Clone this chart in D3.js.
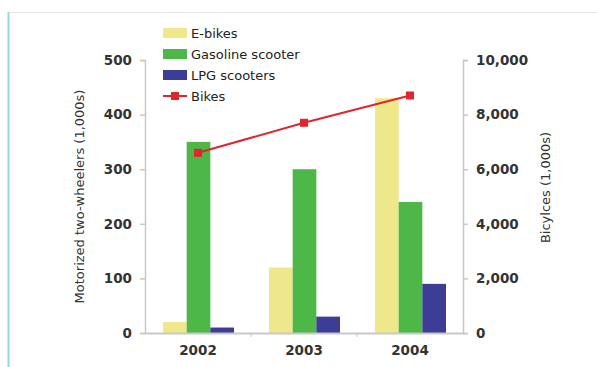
<!DOCTYPE html>
<html>
<head>
<meta charset="utf-8">
<script src="https://cdn.jsdelivr.net/npm/d3@7"></script>
<style>
  body { margin: 0; background: #fff; }
  svg { font-family: "DejaVu Sans", Verdana, sans-serif; }
</style>
</head>
<body>
<svg id="chart" width="597" height="367"></svg>
<script>
const years = ["2002", "2003", "2004"];
const eBikes = [20, 120, 430];
const gasScooters = [350, 300, 240];
const lpgScooters = [10, 30, 90];
const bikes = [6600, 7700, 8700];
const leftTicks = [0, 100, 200, 300, 400, 500];
const rightTicks = [0, 2000, 4000, 6000, 8000, 10000];

const series = [
  {name: "E-bikes", values: eBikes, color: "#efe88a"},
  {name: "Gasoline scooter", values: gasScooters, color: "#4db848"},
  {name: "LPG scooters", values: lpgScooters, color: "#3d3d96"}
];
const lineColor = "#e0252f";

const width = 597;
const height = 367;
const margin = {top: 60, right: 134, bottom: 34, left: 145};

const svg = d3.select("#chart");

// frame
svg.append("line")
  .attr("x1", 8).attr("x2", width).attr("y1", 12.5).attr("y2", 12.5)
  .attr("stroke", "#e6e6e6");
svg.append("line")
  .attr("x1", 8.5).attr("x2", 8.5).attr("y1", 12).attr("y2", height)
  .attr("stroke", "#9fd8d0").attr("stroke-width", 2);

const x = d3.scaleBand()
  .domain(years)
  .range([margin.left, width - margin.right]);

const xInner = d3.scaleBand()
  .domain(series.map(d => d.name))
  .range([0, 71]);

const y = d3.scaleLinear()
  .domain([0, 500])
  .range([height - margin.bottom, margin.top]);

const y2 = d3.scaleLinear()
  .domain([0, 10000])
  .range([height - margin.bottom, margin.top]);

// bars
series.forEach(s => {
  svg.append("g")
    .selectAll("rect")
    .data(s.values)
    .join("rect")
      .attr("x", (d, i) => x(years[i]) + 18 + xInner(s.name))
      .attr("width", xInner.bandwidth())
      .attr("y", d => y(d))
      .attr("height", d => y(0) - y(d))
      .attr("fill", s.color);
});

// axes
const axisColor = "#c8c8c8";
const tickText = "#333";

const leftAxis = svg.append("g")
  .attr("transform", `translate(${margin.left},0)`)
  .call(d3.axisLeft(y).tickValues(leftTicks).tickSize(5).tickPadding(8));

const rightAxis = svg.append("g")
  .attr("transform", `translate(${width - margin.right},0)`)
  .call(d3.axisRight(y2).tickValues(rightTicks).tickSize(5).tickPadding(8)
    .tickFormat(d3.format(",")));

const bottomAxis = svg.append("g")
  .attr("transform", `translate(0,${height - margin.bottom})`)
  .call(d3.axisBottom(x).tickSize(0).tickPadding(12));

// tick marks between categories
svg.append("g")
  .selectAll("line")
  .data(years.slice(1))
  .join("line")
    .attr("x1", d => x(d)).attr("x2", d => x(d))
    .attr("y1", y(0)).attr("y2", y(0) + 4)
    .attr("stroke", axisColor);

[leftAxis, rightAxis, bottomAxis].forEach(a => {
  a.attr("font-family", "DejaVu Sans, Verdana, sans-serif");
  a.selectAll("path, line").attr("stroke", axisColor).attr("stroke-width", 1.5);
  a.selectAll("text")
    .attr("fill", tickText)
    .attr("font-size", 13.5)
    .attr("font-weight", "bold");
});
bottomAxis.select(".domain").attr("stroke-width", 2);

// bikes line
const line = d3.line()
  .x((d, i) => x(years[i]) + x.bandwidth() / 2)
  .y(d => y2(d));

svg.append("path")
  .datum(bikes)
  .attr("fill", "none")
  .attr("stroke", lineColor)
  .attr("stroke-width", 2)
  .attr("d", line);

svg.append("g")
  .selectAll("rect")
  .data(bikes)
  .join("rect")
    .attr("x", (d, i) => x(years[i]) + x.bandwidth() / 2 - 4)
    .attr("y", d => y2(d) - 4)
    .attr("width", 8)
    .attr("height", 8)
    .attr("fill", lineColor);

// axis titles
svg.append("text")
  .attr("transform", `translate(84,${(y(0) + y(500)) / 2}) rotate(-90)`)
  .attr("text-anchor", "middle")
  .attr("fill", tickText)
  .attr("font-size", 13)
  .text("Motorized two-wheelers (1,000s)");

svg.append("text")
  .attr("transform", `translate(550,${(y(0) + y(500)) / 2 - 9}) rotate(-90)`)
  .attr("text-anchor", "middle")
  .attr("fill", tickText)
  .attr("font-size", 13)
  .text("Bicylces (1,000s)");

// legend
const legendItems = series.map(s => ({name: s.name, color: s.color, type: "rect"}))
  .concat([{name: "Bikes", color: lineColor, type: "line"}]);

const legend = svg.append("g")
  .selectAll("g")
  .data(legendItems)
  .join("g")
    .attr("transform", (d, i) => `translate(163,${33 + i * 21})`);

legend.filter(d => d.type === "rect")
  .append("rect")
    .attr("x", 0).attr("y", -5)
    .attr("width", 24).attr("height", 10)
    .attr("fill", d => d.color);

const lineItem = legend.filter(d => d.type === "line");
lineItem.append("line")
  .attr("x1", 0).attr("x2", 24)
  .attr("stroke", d => d.color).attr("stroke-width", 2);
lineItem.append("rect")
  .attr("x", 8).attr("y", -4).attr("width", 8).attr("height", 8)
  .attr("fill", d => d.color);

legend.append("text")
  .attr("x", 28)
  .attr("dy", "0.35em")
  .attr("fill", "#222")
  .attr("font-size", 13)
  .text(d => d.name);
</script>
</body>
</html>
